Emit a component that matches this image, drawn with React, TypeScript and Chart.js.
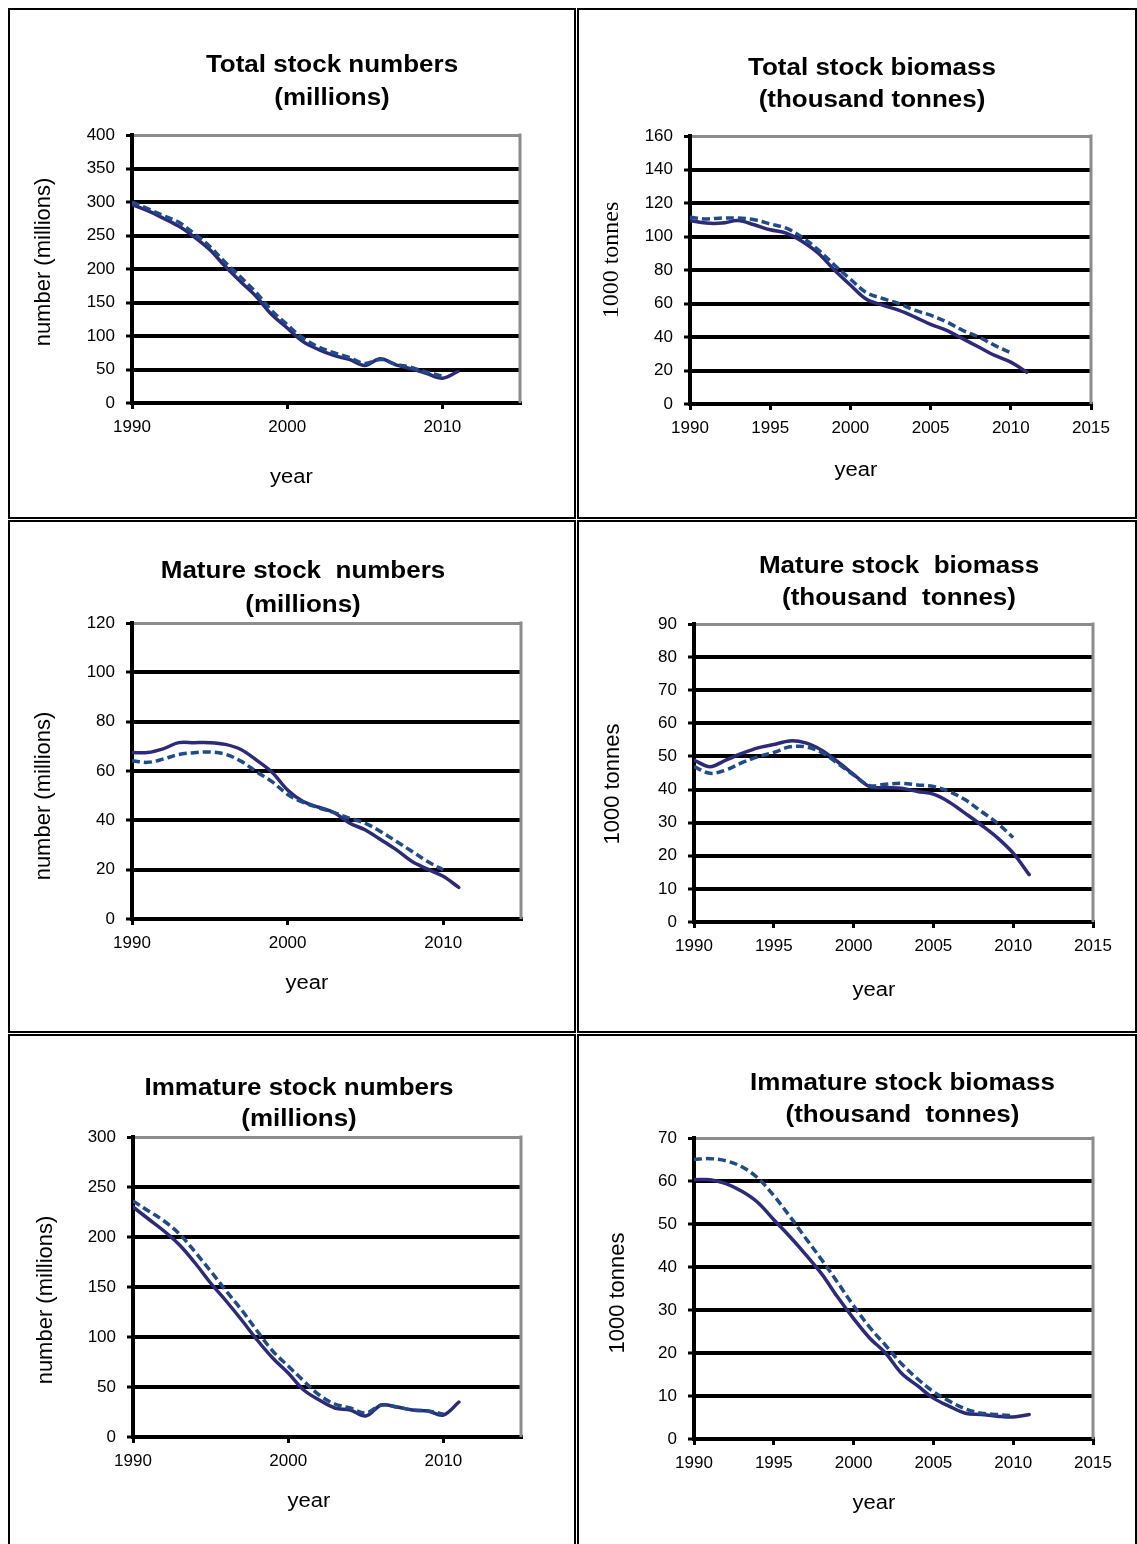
import React, { useEffect, useRef } from 'react';
import { Chart, registerables } from 'chart.js';

Chart.register(...registerables);

// ---------------- DATA ----------------
const years = [1990, 1991, 1992, 1993, 1994, 1995, 1996, 1997, 1998, 1999, 2000, 2001, 2002, 2003, 2004, 2005, 2006, 2007, 2008, 2009, 2010, 2011];

const totalNumbersSolid = [296, 287, 276, 264, 248, 229, 204, 181, 159, 132, 112, 92, 80, 71, 65, 56, 66, 57, 51, 44, 37, 47];
const totalNumbersDashed = [300, 290, 280, 270, 253, 234, 210, 188, 165, 138, 117, 97, 84, 75, 68, 59, 65, 58, 53, 46, 40];

const totalBiomassSolid = [109.5, 108, 108, 109.5, 107, 104, 102, 97, 90, 80, 71, 62.5, 59, 56, 52, 47.5, 44, 39, 34, 29, 25, 19];
const totalBiomassDashed = [111.5, 110.5, 111, 111, 110, 107.5, 105, 99.5, 92, 83, 74.5, 66.5, 63, 60, 56, 53, 49, 44, 40, 35, 30.5];

const matureNumbersSolid = [67.5, 67.5, 69, 71.5, 71.5, 71.5, 70.8, 68.7, 64.4, 59.5, 52.3, 47.6, 45.3, 43.1, 38.8, 36.1, 32.1, 28, 23.3, 20.2, 17.3, 12.8];
const matureNumbersDashed = [64.2, 63.5, 64.8, 66.7, 67.4, 67.7, 66.8, 64, 59.7, 55.7, 50.5, 47.3, 45.1, 43.1, 40.8, 38.8, 35.4, 31.4, 27.4, 23.3, 19.9];

const matureBiomassSolid = [48.9, 46.9, 48.9, 50.9, 52.6, 53.6, 54.7, 54.1, 51.9, 48.4, 44.6, 40.9, 40.6, 40.4, 39.4, 38.6, 36.2, 32.8, 29.3, 25.5, 20.8, 14.3];
const matureBiomassDashed = [46.9, 44.9, 45.9, 48.1, 49.9, 51.2, 52.9, 52.9, 51.2, 47.9, 44.4, 41.2, 41.6, 41.9, 41.4, 40.9, 39.4, 36.9, 33.4, 29.9, 25.5];

const immatureNumbersSolid = [230, 218, 206, 192, 174, 154, 136, 117, 97, 79, 64, 47, 37, 29, 27, 21, 32, 30, 27, 26, 22, 35];
const immatureNumbersDashed = [236, 226, 216, 203, 185, 166, 146, 127, 106, 86, 71, 56, 42, 33, 29, 24, 32, 30, 27, 26, 23];

const immatureBiomassSolid = [60.3, 60.3, 59.4, 57.6, 55, 51, 47.1, 42.9, 38.4, 33, 28, 23.5, 20, 15.3, 12.4, 9.5, 7.6, 6, 5.7, 5.3, 5.1, 5.7];
const immatureBiomassDashed = [65, 65.2, 64.7, 63.3, 60.7, 56.6, 51.8, 46.7, 41.7, 36.4, 31, 26, 21.8, 17.5, 14, 11, 8.8, 7, 6, 5.7, 5.4];

const yTicksTotalNumbers = [0, 50, 100, 150, 200, 250, 300, 350, 400];
const yTicksTotalBiomass = [0, 20, 40, 60, 80, 100, 120, 140, 160];
const yTicksMatureNumbers = [0, 20, 40, 60, 80, 100, 120];
const yTicksMatureBiomass = [0, 10, 20, 30, 40, 50, 60, 70, 80, 90];
const yTicksImmatureNumbers = [0, 50, 100, 150, 200, 250, 300];
const yTicksImmatureBiomass = [0, 10, 20, 30, 40, 50, 60, 70];

const xTicksDecades = [1990, 2000, 2010];
const xTicksFiveYears = [1990, 1995, 2000, 2005, 2010, 2015];
const xMin = 1990;
const xMax = 2015;

const titlesTotalNumbers = ['Total stock numbers', '(millions)'];
const titlesTotalBiomass = ['Total stock biomass', '(thousand tonnes)'];
const titlesMatureNumbers = ['Mature stock  numbers', '(millions)'];
const titlesMatureBiomass = ['Mature stock  biomass', '(thousand  tonnes)'];
const titlesImmatureNumbers = ['Immature stock numbers', '(millions)'];
const titlesImmatureBiomass = ['Immature stock biomass', '(thousand  tonnes)'];

const yLabelNumbers = 'number (millions)';
const yLabelBiomass = '1000 tonnes';
const xLabel = 'year';

// ---------------- STYLE / LAYOUT ----------------
const SANS = '"Liberation Sans", Arial, Helvetica, sans-serif';
const SERIF = '"Liberation Serif", "Times New Roman", serif';
const SOLID_COLOR = '#2C2A7A';
const DASHED_COLOR = '#1F4C88';

type PanelSpec = {
  rect: { x: number; y: number; w: number; h: number };
  area: { L: number; T: number; R: number; B: number };
  titleX: number;
  titleY: number[];
  yTitleX: number;
  yTitleY: number;
  yTitleFont: string;
  xTitleX: number;
  xTitleY: number;
  titles: string[];
  yLabel: string;
  yTicks: number[];
  xTicks: number[];
  solid: number[];
  dashed: number[];
};

const panels: PanelSpec[] = [
  {
    rect: { x: 8, y: 8, w: 568, h: 511 },
    area: { L: 132, T: 135, R: 520, B: 403 },
    titleX: 332, titleY: [71.5, 105],
    yTitleX: 43.5, yTitleY: 262, yTitleFont: `22px ${SANS}`,
    xTitleX: 291.5, xTitleY: 482.5,
    titles: titlesTotalNumbers, yLabel: yLabelNumbers,
    yTicks: yTicksTotalNumbers, xTicks: xTicksDecades,
    solid: totalNumbersSolid, dashed: totalNumbersDashed,
  },
  {
    rect: { x: 577, y: 8, w: 560, h: 511 },
    area: { L: 690, T: 136, R: 1091, B: 404 },
    titleX: 872, titleY: [74.5, 106.5],
    yTitleX: 612, yTitleY: 260, yTitleFont: `24px ${SERIF}`,
    xTitleX: 856, xTitleY: 476,
    titles: titlesTotalBiomass, yLabel: yLabelBiomass,
    yTicks: yTicksTotalBiomass, xTicks: xTicksFiveYears,
    solid: totalBiomassSolid, dashed: totalBiomassDashed,
  },
  {
    rect: { x: 8, y: 520, w: 568, h: 513 },
    area: { L: 132, T: 623, R: 521, B: 919 },
    titleX: 303, titleY: [578, 611.5],
    yTitleX: 43.5, yTitleY: 796, yTitleFont: `22px ${SANS}`,
    xTitleX: 307, xTitleY: 989,
    titles: titlesMatureNumbers, yLabel: yLabelNumbers,
    yTicks: yTicksMatureNumbers, xTicks: xTicksDecades,
    solid: matureNumbersSolid, dashed: matureNumbersDashed,
  },
  {
    rect: { x: 577, y: 520, w: 560, h: 513 },
    area: { L: 694, T: 624, R: 1093, B: 922 },
    titleX: 899, titleY: [573, 605],
    yTitleX: 613, yTitleY: 784, yTitleFont: `22px ${SANS}`,
    xTitleX: 874, xTitleY: 996,
    titles: titlesMatureBiomass, yLabel: yLabelBiomass,
    yTicks: yTicksMatureBiomass, xTicks: xTicksFiveYears,
    solid: matureBiomassSolid, dashed: matureBiomassDashed,
  },
  {
    rect: { x: 8, y: 1034, w: 568, h: 520 },
    area: { L: 133, T: 1137, R: 521, B: 1437 },
    titleX: 299, titleY: [1094.5, 1126],
    yTitleX: 46, yTitleY: 1300, yTitleFont: `22px ${SANS}`,
    xTitleX: 309, xTitleY: 1507,
    titles: titlesImmatureNumbers, yLabel: yLabelNumbers,
    yTicks: yTicksImmatureNumbers, xTicks: xTicksDecades,
    solid: immatureNumbersSolid, dashed: immatureNumbersDashed,
  },
  {
    rect: { x: 577, y: 1034, w: 560, h: 520 },
    area: { L: 694, T: 1138, R: 1093, B: 1439 },
    titleX: 902.5, titleY: [1089.5, 1121.5],
    yTitleX: 618, yTitleY: 1293, yTitleFont: `22px ${SANS}`,
    xTitleX: 874, xTitleY: 1509,
    titles: titlesImmatureBiomass, yLabel: yLabelBiomass,
    yTicks: yTicksImmatureBiomass, xTicks: xTicksFiveYears,
    solid: immatureBiomassSolid, dashed: immatureBiomassDashed,
  },
];

function makeTextPlugin(p: PanelSpec) {
  const ox = p.rect.x;
  const oy = p.rect.y;
  return {
    id: 'panelText',
    afterDraw(chart: any) {
      const ctx = chart.ctx as CanvasRenderingContext2D;
      ctx.save();
      ctx.fillStyle = '#000';
      ctx.textAlign = 'center';
      ctx.textBaseline = 'alphabetic';
      ctx.font = `bold 23px ${SANS}`;
      p.titles.forEach((line, i) => {
        ctx.save();
        ctx.translate(p.titleX - ox, p.titleY[i] - oy);
        ctx.scale(1.13, 1);
        ctx.fillText(line, 0, 0);
        ctx.restore();
      });
      ctx.font = `20px ${SANS}`;
      ctx.save();
      ctx.translate(p.xTitleX - ox, p.xTitleY - oy);
      ctx.scale(1.1, 1);
      ctx.fillText(xLabel, 0, 0);
      ctx.restore();
      ctx.font = p.yTitleFont;
      ctx.textBaseline = 'middle';
      ctx.save();
      ctx.translate(p.yTitleX - ox, p.yTitleY - oy);
      ctx.rotate(-Math.PI / 2);
      ctx.fillText(p.yLabel, 0, 0);
      ctx.restore();
      ctx.restore();
    },
  };
}

const frameBorderPlugin = {
  id: 'frameBorder',
  beforeDatasetsDraw(chart: any) {
    const { ctx, chartArea } = chart;
    ctx.save();
    ctx.strokeStyle = '#8C8C8C';
    ctx.lineWidth = 3;
    ctx.beginPath();
    ctx.moveTo(chartArea.right, chartArea.top - 1.5);
    ctx.lineTo(chartArea.right, chartArea.bottom);
    ctx.stroke();
    ctx.restore();
  },
};

function Panel({ spec }: { spec: PanelSpec }) {
  const ref = useRef<HTMLCanvasElement | null>(null);
  useEffect(() => {
    const canvas = ref.current;
    if (!canvas) return;
    const { rect, area } = spec;
    const yMax = spec.yTicks[spec.yTicks.length - 1];
    const toPoints = (vals: number[]) => vals.map((v, i) => ({ x: years[i], y: v }));
    const chart = new Chart(canvas, {
      type: 'line',
      data: {
        datasets: [
          {
            label: 'dashed',
            data: toPoints(spec.dashed),
            borderColor: DASHED_COLOR,
            borderWidth: 3.5,
            borderDash: [8, 4],
            pointRadius: 0,
            tension: 0.35,
            fill: false,
            order: 0,
          },
          {
            label: 'solid',
            data: toPoints(spec.solid),
            borderColor: SOLID_COLOR,
            borderWidth: 3.5,
            borderCapStyle: 'round',
            pointRadius: 0,
            tension: 0.35,
            fill: false,
            order: 1,
          },
        ],
      },
      options: {
        responsive: false,
        maintainAspectRatio: false,
        devicePixelRatio: 1,
        animation: false,
        events: [],
        layout: {
          padding: {
            left: 0,
            top: area.T - rect.y,
            right: rect.x + rect.w - area.R,
            bottom: 0,
          },
        },
        plugins: {
          legend: { display: false },
          tooltip: { enabled: false },
          title: { display: false },
        },
        scales: {
          x: {
            type: 'linear',
            min: xMin,
            max: xMax,
            afterBuildTicks: (s: any) => {
              s.ticks = spec.xTicks.map((v) => ({ value: v }));
            },
            afterFit: (s: any) => {
              s.height = rect.y + rect.h - area.B;
            },
            grid: {
              drawOnChartArea: false,
              drawTicks: true,
              tickLength: 6,
              tickColor: '#000',
              tickWidth: 3,
              color: '#000',
              lineWidth: 3,
            },
            border: { color: '#000', width: 4 },
            ticks: {
              color: '#000',
              font: { family: SANS, size: 17 },
              padding: 8,
              maxRotation: 0,
              autoSkip: false,
              callback: (v: any) => String(v),
            },
          },
          y: {
            type: 'linear',
            min: 0,
            max: yMax,
            afterBuildTicks: (s: any) => {
              s.ticks = spec.yTicks.map((v) => ({ value: v }));
            },
            afterFit: (s: any) => {
              s.width = area.L - rect.x;
            },
            grid: {
              color: (c: any) => (c.tick && c.tick.value === yMax ? '#8C8C8C' : '#000'),
              lineWidth: (c: any) => (c.tick && c.tick.value === yMax ? 3 : 4),
              tickColor: '#000',
              tickWidth: 3,
              tickLength: 6,
              drawTicks: true,
            },
            border: { color: '#000', width: 4 },
            ticks: {
              color: '#000',
              font: { family: SANS, size: 17 },
              padding: 11,
              callback: (v: any) => String(v),
            },
          },
        },
      },
      plugins: [frameBorderPlugin, makeTextPlugin(spec)],
    } as any);
    return () => chart.destroy();
  }, [spec]);

  const { rect } = spec;
  return (
    <>
      <div
        style={{
          position: 'absolute',
          left: rect.x,
          top: rect.y,
          width: rect.w,
          height: rect.h,
          border: '2px solid #000',
          boxSizing: 'border-box',
        }}
      />
      <canvas
        ref={ref}
        width={rect.w}
        height={rect.h}
        style={{ position: 'absolute', left: rect.x, top: rect.y, width: rect.w, height: rect.h }}
      />
    </>
  );
}

export default function App() {
  return (
    <div
      style={{
        position: 'absolute',
        left: 0,
        top: 0,
        width: 1137,
        height: 1544,
        overflow: 'hidden',
        background: '#fff',
      }}
    >
      {panels.map((p, i) => (
        <Panel key={i} spec={p} />
      ))}
    </div>
  );
}
